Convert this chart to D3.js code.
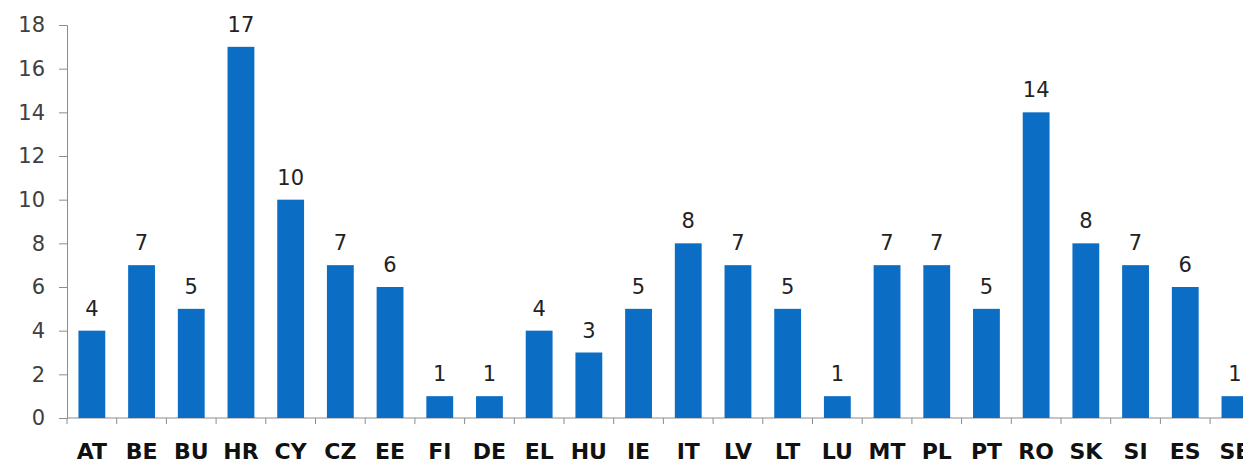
<!DOCTYPE html>
<html>
<head>
<meta charset="utf-8">
<script src="https://cdn.jsdelivr.net/npm/d3@7"></script>
<style>
  body { margin: 0; background: #fff; }
  svg { display: block; }
</style>
</head>
<body>
<div id="chart"></div>
<script>
var countries = ["AT", "BE", "BU", "HR", "CY", "CZ", "EE", "FI", "DE", "EL", "HU", "IE",
                 "IT", "LV", "LT", "LU", "MT", "PL", "PT", "RO", "SK", "SI", "ES", "SE"];
var counts = [4, 7, 5, 17, 10, 7, 6, 1, 1, 4, 3, 5, 8, 7, 5, 1, 7, 7, 5, 14, 8, 7, 6, 1];
var yTicks = [0, 2, 4, 6, 8, 10, 12, 14, 16, 18];

var w = 1243, h = 465;
var marginLeft = 67, baseY = 418, topY = 25;
var band = 49.7;

var svg = d3.select("#chart").append("svg")
    .attr("width", w)
    .attr("height", h);

var x = d3.scaleBand()
    .domain(countries)
    .range([marginLeft, marginLeft + band * countries.length])
    .paddingInner(0.46)
    .paddingOuter(0.23);

var y = d3.scaleLinear()
    .domain([0, 18])
    .range([baseY, topY]);

// y axis
var yAxis = svg.append("g")
    .attr("transform", "translate(" + marginLeft + ",0)")
    .call(d3.axisLeft(y).tickValues(yTicks).tickSize(8).tickPadding(14));
yAxis.selectAll("line, path").attr("stroke", "#8c8c8c");
yAxis.selectAll("text")
    .style("font-family", "DejaVu Sans, Verdana, sans-serif")
    .style("font-size", "21px")
    .attr("fill", "#404040");

// x axis with ticks between categories
var xAxis = svg.append("g").attr("transform", "translate(0," + baseY + ")");
xAxis.append("line")
    .attr("x1", marginLeft).attr("x2", w)
    .attr("stroke", "#8c8c8c");
xAxis.selectAll(".tk")
    .data(countries)
    .enter().append("line")
    .attr("x1", function(d) { return x(d) - x.step() * x.paddingOuter(); })
    .attr("x2", function(d) { return x(d) - x.step() * x.paddingOuter(); })
    .attr("y1", 0).attr("y2", 6)
    .attr("stroke", "#8c8c8c");
xAxis.selectAll(".lbl")
    .data(countries)
    .enter().append("text")
    .attr("x", function(d) { return x(d) + x.bandwidth() / 2; })
    .attr("y", 41)
    .attr("text-anchor", "middle")
    .style("font-family", "DejaVu Sans, Verdana, sans-serif")
    .style("font-size", "22px")
    .style("font-weight", "bold")
    .attr("fill", "#111")
    .text(function(d) { return d; });

// bars
svg.selectAll(".bar")
    .data(counts)
    .enter().append("rect")
    .attr("x", function(d, i) { return x(countries[i]); })
    .attr("y", function(d) { return y(d); })
    .attr("width", x.bandwidth())
    .attr("height", function(d) { return baseY - y(d); })
    .attr("fill", "#0b6ec4");

// value labels
svg.selectAll(".val")
    .data(counts)
    .enter().append("text")
    .attr("x", function(d, i) { return x(countries[i]) + x.bandwidth() / 2; })
    .attr("y", function(d) { return y(d) - 15; })
    .attr("text-anchor", "middle")
    .style("font-family", "DejaVu Sans, Verdana, sans-serif")
    .style("font-size", "21px")
    .attr("fill", "#222")
    .text(function(d) { return d; });
</script>
</body>
</html>
